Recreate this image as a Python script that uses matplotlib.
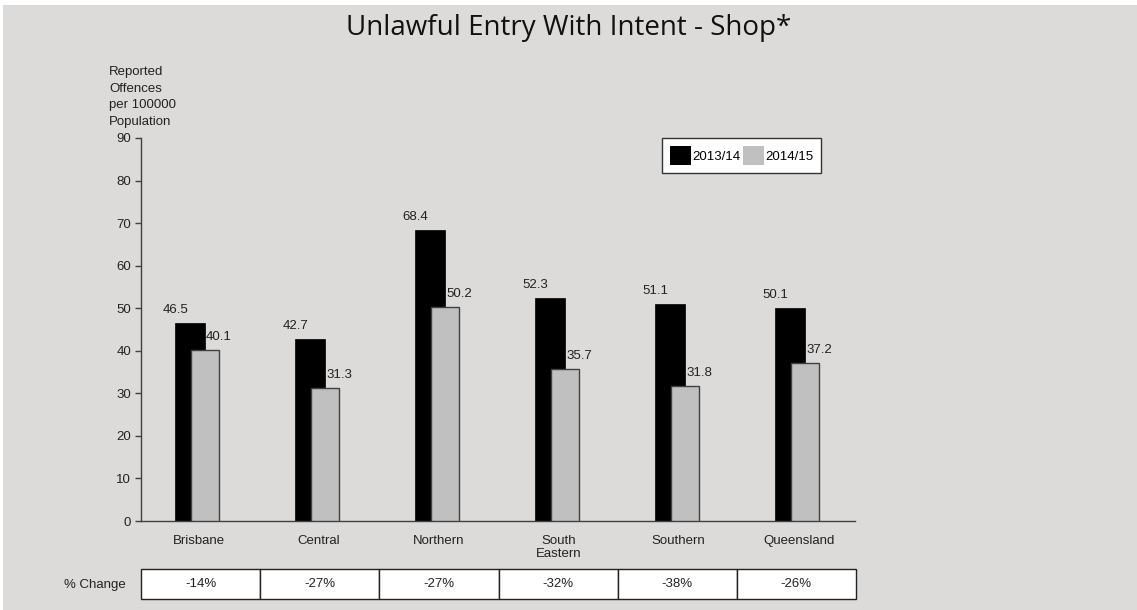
import matplotlib.pyplot as plt
from matplotlib.patches import Rectangle, Patch
import numpy as np

# Data
regions = ['Brisbane', 'Central', 'Northern', 'South\nEastern', 'Southern', 'Queensland']
rate_1314 = [46.5, 42.7, 68.4, 52.3, 51.1, 50.1]
rate_1415 = [40.1, 31.3, 50.2, 35.7, 31.8, 37.2]
pct_change = ['-14%', '-27%', '-27%', '-32%', '-38%', '-26%']
series_names = ['2013/14', '2014/15']
y_ticks = [0, 10, 20, 30, 40, 50, 60, 70, 80, 90]

bg = '#dcdbd9'
text_col = '#222222'
font = 'Liberation Sans'
fs = 9.5

W, H = 1137, 610
fig = plt.figure(figsize=(W / 100, H / 100), dpi=100, facecolor=bg)

# thin white strips at the top and left edges
fig.patches.append(Rectangle((0, 1 - 5 / H), 1, 5 / H, transform=fig.transFigure,
                             facecolor='white', edgecolor='none', zorder=0))
fig.patches.append(Rectangle((0, 0), 3 / W, 1, transform=fig.transFigure,
                             facecolor='white', edgecolor='none', zorder=0))

# main axes (pixel positions from the reference)
left, right = 141, 861
top, bottom = 138, 521
ax = fig.add_axes([left / W, 1 - bottom / H, (right - left) / W, (bottom - top) / H])
ax.set_facecolor(bg)

x = np.arange(len(regions))
black_off, black_w = 0.287, 0.25
gray_off, gray_w = 0.417, 0.233

ax.bar(x + black_off, rate_1314, width=black_w, align='edge', color='black',
       edgecolor='black', linewidth=0.5, zorder=2)
ax.bar(x + gray_off, rate_1415, width=gray_w, align='edge', color='#c0c0c0',
       edgecolor='#404040', linewidth=1.0, zorder=3)

for i in range(len(regions)):
    ax.annotate(f'{rate_1314[i]:.1f}', (x[i] + black_off, rate_1314[i]),
                xytext=(0, 5), textcoords='offset points', ha='center', va='bottom',
                fontsize=fs, family=font, color=text_col)
    ax.annotate(f'{rate_1415[i]:.1f}', (x[i] + gray_off + gray_w, rate_1415[i]),
                xytext=(0, 5), textcoords='offset points', ha='center', va='bottom',
                fontsize=fs, family=font, color=text_col)

ax.set_xlim(0, len(regions))
ax.set_ylim(0, 90)
ax.set_yticks(y_ticks)
ax.set_yticklabels([str(t) for t in y_ticks], fontsize=fs, family=font, color=text_col)
ax.set_xticks(x + 0.48)
ax.set_xticklabels(regions, fontsize=fs, family=font, color=text_col, linespacing=1.1, va='top')
ax.tick_params(axis='x', length=0, pad=10)
ax.tick_params(axis='y', length=4, width=1, color='#404040', pad=3)
for s in ['top', 'right']:
    ax.spines[s].set_visible(False)
for s in ['left', 'bottom']:
    ax.spines[s].set_color('#404040')
    ax.spines[s].set_linewidth(1.0)
ax.spines['bottom'].set_bounds(0, 5.95)

handles = [Patch(facecolor='black', edgecolor='none'),
           Patch(facecolor='#c0c0c0', edgecolor='none')]
leg = ax.legend(handles, series_names, loc='upper right',
                bbox_to_anchor=((821 - left) / (right - left), 1.0),
                ncol=2, frameon=True, fancybox=False, prop={'family': font, 'size': fs},
                handlelength=1.6, handleheight=1.9, handletextpad=0.1, columnspacing=0.15,
                borderpad=0.6, borderaxespad=0)
leg.get_frame().set_edgecolor('#333333')
leg.get_frame().set_linewidth(1.0)
leg.get_frame().set_facecolor('white')
leg.get_frame().set_alpha(1)

# title
fig.text(0.5, 1 - 28 / H, 'Unlawful Entry With Intent - Shop*', ha='center', va='center',
         fontsize=20, family='Open Sans', color='#111111')

# y axis caption
fig.text(109 / W, 1 - 66 / H, 'Reported\nOffences\nper 100000\nPopulation', ha='left', va='top',
         fontsize=fs, family=font, color=text_col, linespacing=1.5)

# % change row underneath
tab_top, tab_bot = 569, 599
tax = fig.add_axes([left / W, 1 - tab_bot / H, (856 - left) / W, (tab_bot - tab_top) / H])
tax.axis('off')
tbl = tax.table(cellText=[pct_change], cellLoc='center', bbox=[0, 0, 1, 1])
tbl.auto_set_font_size(False)
for cell in tbl.get_celld().values():
    cell.set_facecolor('white')
    cell.set_edgecolor('#222222')
    cell.set_linewidth(1.0)
    cell.get_text().set_fontsize(fs)
    cell.get_text().set_family(font)
    cell.get_text().set_color(text_col)
fig.text(95 / W, 1 - 585 / H, '% Change', ha='center', va='center',
         fontsize=fs, family=font, color=text_col)

fig.savefig('out.png', dpi=100, facecolor=bg)
